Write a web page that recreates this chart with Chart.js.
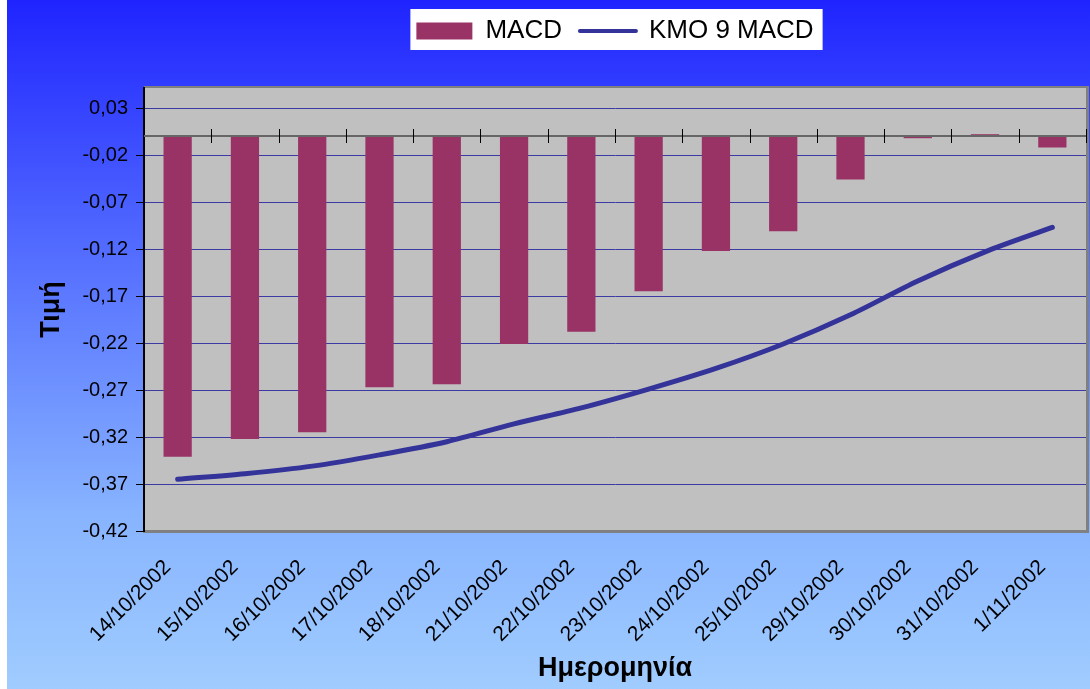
<!DOCTYPE html>
<html>
<head>
<meta charset="utf-8">
<script src="https://cdn.jsdelivr.net/npm/chart.js@4.4.1/dist/chart.umd.min.js"></script>
<style>
    html, body { margin: 0; padding: 0; background: #ffffff; }
    #wrap { width: 1090px; height: 689px; }
</style>
</head>
<body>
<div id="wrap"><canvas id="macdChart" width="1090" height="689"></canvas></div>
<script>
// Dates (category axis)
const dates = ['14/10/2002', '15/10/2002', '16/10/2002', '17/10/2002', '18/10/2002', '21/10/2002', '22/10/2002',
    '23/10/2002', '24/10/2002', '25/10/2002', '29/10/2002', '30/10/2002', '31/10/2002', '1/11/2002'];

// MACD bars
const macdValues = [-0.341, -0.322, -0.315, -0.267, -0.264, -0.221, -0.208,
    -0.165, -0.122, -0.101, -0.046, -0.002, 0.002, -0.012];

// 9 day moving average of MACD
const signalValues = [-0.365, -0.359, -0.351, -0.339, -0.325, -0.306, -0.289,
    -0.269, -0.247, -0.221, -0.190, -0.154, -0.123, -0.097];

// Value axis ticks
const yTicks = [0.03, -0.02, -0.07, -0.12, -0.17, -0.22, -0.27, -0.32, -0.37, -0.42];

const COLORS = {
    bar: '#993366',
    line: '#333399',
    grid: '#3b3ba3',
    plot: '#c0c0c0',
    frame: '#808080'
};

const FONT = 'Arial, "Liberation Sans", sans-serif';

// Background gradient, white legend box, plot frame
const backdropPlugin = {
    id: 'backdrop',
    beforeInit(chart) {
        const legend = chart.legend;
        const fit = legend.fit;
        legend.fit = function() {
            fit.call(this);
            this.height = 88;
        };
    },
    beforeDraw(chart) {
        const ctx = chart.ctx;
        const area = chart.chartArea;
        ctx.save();
        const g = ctx.createLinearGradient(0, 0, 0, chart.height);
        g.addColorStop(0, '#1f24ff');
        g.addColorStop(0.45, '#5f7dff');
        g.addColorStop(0.75, '#88b4ff');
        g.addColorStop(1, '#a0ccff');
        ctx.fillStyle = g;
        ctx.fillRect(7, 0, chart.width - 7, chart.height);

        // legend box
        const boxes = chart.legend.legendHitBoxes;
        if (boxes && boxes.length) {
            const left = Math.min(...boxes.map(b => b.left)) - 6;
            const right = Math.max(...boxes.map(b => b.left + b.width)) + 9;
            ctx.fillStyle = '#ffffff';
            ctx.fillRect(left, 9, right - left, 41);
        }

        // plot area
        ctx.fillStyle = COLORS.frame;
        ctx.fillRect(area.left, area.top - 2, area.right - area.left + 3, area.bottom - area.top + 4);
        ctx.fillStyle = COLORS.plot;
        ctx.fillRect(area.left, area.top, area.right - area.left, area.bottom - area.top);
        ctx.restore();
    },
    afterDatasetsDraw(chart) {
        // category axis crosses at zero
        const ctx = chart.ctx;
        const area = chart.chartArea;
        const y0 = Math.round(chart.scales.y.getPixelForValue(0));
        ctx.save();
        ctx.strokeStyle = '#666666';
        ctx.lineWidth = 2;
        ctx.beginPath();
        ctx.moveTo(area.left, y0);
        ctx.lineTo(area.right, y0);
        ctx.stroke();
        ctx.strokeStyle = '#000000';
        ctx.lineWidth = 1;
        const step = (area.right - area.left) / dates.length;
        for (let i = 1; i <= dates.length; i++) {
            const px = Math.round(area.left + i * step) + 0.5;
            ctx.beginPath();
            ctx.moveTo(px, y0 - 7);
            ctx.lineTo(px, y0 + 7);
            ctx.stroke();
        }
        ctx.restore();
    }
};

const ctx = document.getElementById('macdChart').getContext('2d');
const chart = new Chart(ctx, {
    type: 'bar',
    data: {
        labels: dates,
        datasets: [
            {
                label: 'MACD',
                data: macdValues,
                backgroundColor: COLORS.bar,
                borderWidth: 0,
                categoryPercentage: 1,
                barPercentage: 0.42,
                minBarLength: 2,
                order: 1
            },
            {
                type: 'line',
                label: 'KMO 9 MACD',
                data: signalValues,
                borderColor: COLORS.line,
                borderWidth: 5,
                borderCapStyle: 'round',
                pointRadius: 0,
                tension: 0.3,
                fill: false,
                order: 0
            }
        ]
    },
    options: {
        responsive: false,
        animation: false,
        layout: { padding: { left: 7, right: 4, top: 0, bottom: 0 } },
        plugins: {
            legend: {
                position: 'top',
                fullSize: false,
                labels: {
                    usePointStyle: true,
                    pointStyleWidth: 56,
                    boxHeight: 17,
                    padding: 18,
                    color: '#000000',
                    font: { size: 26, family: FONT },
                    generateLabels: function() {
                        return [
                            { text: 'MACD', fillStyle: COLORS.bar, strokeStyle: COLORS.bar, lineWidth: 0,
                              pointStyle: 'rect', datasetIndex: 0, fontColor: '#000000' },
                            { text: 'KMO 9 MACD', fillStyle: COLORS.line, strokeStyle: COLORS.line, lineWidth: 4,
                              lineCap: 'round', pointStyle: 'line', datasetIndex: 1, fontColor: '#000000' }
                        ];
                    }
                }
            },
            tooltip: { enabled: false }
        },
        scales: {
            x: {
                grid: { display: false },
                border: { display: true, color: COLORS.frame, width: 3 },
                ticks: {
                    color: '#000000',
                    minRotation: 45,
                    maxRotation: 45,
                    padding: 16,
                    labelOffset: -10,
                    font: { size: 21, family: FONT }
                },
                title: {
                    display: true,
                    text: 'Ημερομηνία',
                    color: '#000000',
                    font: { size: 27, weight: 'bold', family: FONT },
                    padding: { top: 0, bottom: 4 }
                },
                afterFit: function(scale) { scale.height = 158; }
            },
            y: {
                min: -0.42,
                max: 0.0513,
                afterBuildTicks: function(scale) {
                    scale.ticks = yTicks.map(v => ({ value: v }));
                },
                grid: {
                    color: COLORS.grid,
                    lineWidth: 1,
                    tickColor: '#000000',
                    tickLength: 8
                },
                border: { display: true, color: '#000000', width: 2 },
                ticks: {
                    color: '#000000',
                    padding: 8,
                    font: { size: 20, family: FONT },
                    callback: function(value) {
                        return value.toFixed(2).replace('.', ',');
                    }
                },
                title: {
                    display: true,
                    text: 'Τιμή',
                    color: '#000000',
                    font: { size: 27, weight: 'bold', family: FONT },
                    padding: { top: 28, bottom: 0 }
                },
                afterFit: function(scale) { scale.width = 137; }
            }
        }
    },
    plugins: [backdropPlugin]
});
</script>
</body>
</html>
